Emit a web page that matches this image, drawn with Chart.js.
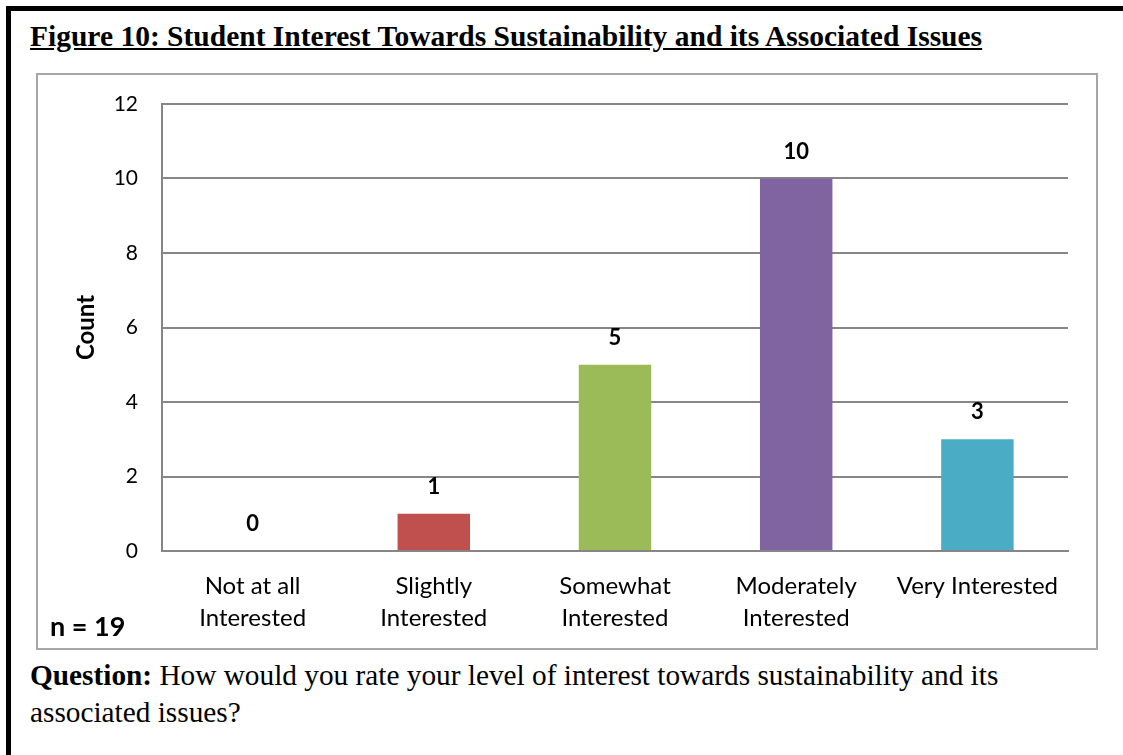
<!DOCTYPE html>
<html>
<head>
<meta charset="utf-8">
<script src="https://cdn.jsdelivr.net/npm/chart.js@4/dist/chart.umd.min.js"></script>
<style>
  body { margin: 0; background: #fff; width: 1123px; height: 755px; overflow: hidden; position: relative; }
  #frame { position: absolute; left: 6px; top: 6px; width: 1200px; height: 800px;
           border-left: 5px solid #000; border-top: 5px solid #000; }
  #title { position: absolute; left: 30px; top: 22px; font: bold 29.5px "Liberation Serif", serif;
           line-height: 1; text-decoration: underline; white-space: nowrap; }
  #box { position: absolute; left: 36px; top: 73px; width: 1058px; height: 573px;
         border: 2px solid #a6a6a6; }
  #myChart { position: absolute; left: 0; top: 0; }
  #n { position: absolute; left: 50px; top: 612px; font: bold 27px Lato, sans-serif; line-height: 1; }
  #question { position: absolute; left: 30px; top: 657px; font: 29.3px "Liberation Serif", serif;
              line-height: 37px; white-space: nowrap; }
</style>
</head>
<body>
<div id="frame"></div>
<div id="title">Figure 10: Student Interest Towards Sustainability and its Associated Issues</div>
<div id="box"><canvas id="myChart" width="1058" height="573"></canvas></div>
<div id="n">n = 19</div>
<div id="question"><b>Question:</b> How would you rate your level of interest towards sustainability and its<br>associated issues?</div>
<script>
const categories = [
  ['Not at all', 'Interested'],
  ['Slightly', 'Interested'],
  ['Somewhat', 'Interested'],
  ['Moderately', 'Interested'],
  'Very Interested'
];
const counts = [0, 1, 5, 10, 3];
const yTicks = [0, 2, 4, 6, 8, 10, 12];

const barColors = ['#4F81BD', '#C0504D', '#9BBB59', '#8064A2', '#4BACC6'];

// value labels above each bar
const valueLabels = {
  id: 'valueLabels',
  afterDatasetsDraw(chart) {
    const ctx = chart.ctx;
    const meta = chart.getDatasetMeta(0);
    ctx.save();
    ctx.font = 'bold 22px Lato, sans-serif';
    ctx.fillStyle = '#000';
    ctx.textAlign = 'center';
    ctx.textBaseline = 'middle';
    meta.data.forEach((bar, i) => {
      ctx.fillText(counts[i], bar.x, bar.y - 27);
    });
    ctx.restore();
  }
};

const ctx = document.getElementById('myChart');
new Chart(ctx, {
  type: 'bar',
  data: {
    labels: categories,
    datasets: [{
      data: counts,
      backgroundColor: barColors,
      categoryPercentage: 1,
      barPercentage: 0.4
    }]
  },
  options: {
    responsive: false,
    animation: false,
    layout: { padding: { top: 29, right: 28, left: 0, bottom: 0 } },
    plugins: { legend: { display: false }, tooltip: { enabled: false } },
    scales: {
      x: {
        grid: { display: false },
        border: { display: true, color: '#868686', width: 2 },
        ticks: { color: '#000', font: { family: 'Lato', size: 24, lineHeight: 1.333 }, padding: 11, maxRotation: 0, autoSkip: false },
        afterFit: (s) => { s.height = 97; }
      },
      y: {
        min: 0, max: 12,
        afterBuildTicks: (s) => { s.ticks = yTicks.map(v => ({ value: v })); },
        grid: { color: '#868686', lineWidth: 2, drawTicks: false },
        border: { display: true, color: '#868686', width: 2 },
        ticks: { color: '#000', font: { family: 'Lato', size: 21 }, padding: 24 },
        title: { display: true, text: 'Count', color: '#000', font: { family: 'Lato', size: 24, weight: 'bold' }, padding: { top: 34, bottom: 0 } },
        afterFit: (s) => { s.width = 124; s.paddingTop = 0; s.paddingBottom = 0; }
      }
    }
  },
  plugins: [valueLabels]
});
</script>
</body>
</html>
